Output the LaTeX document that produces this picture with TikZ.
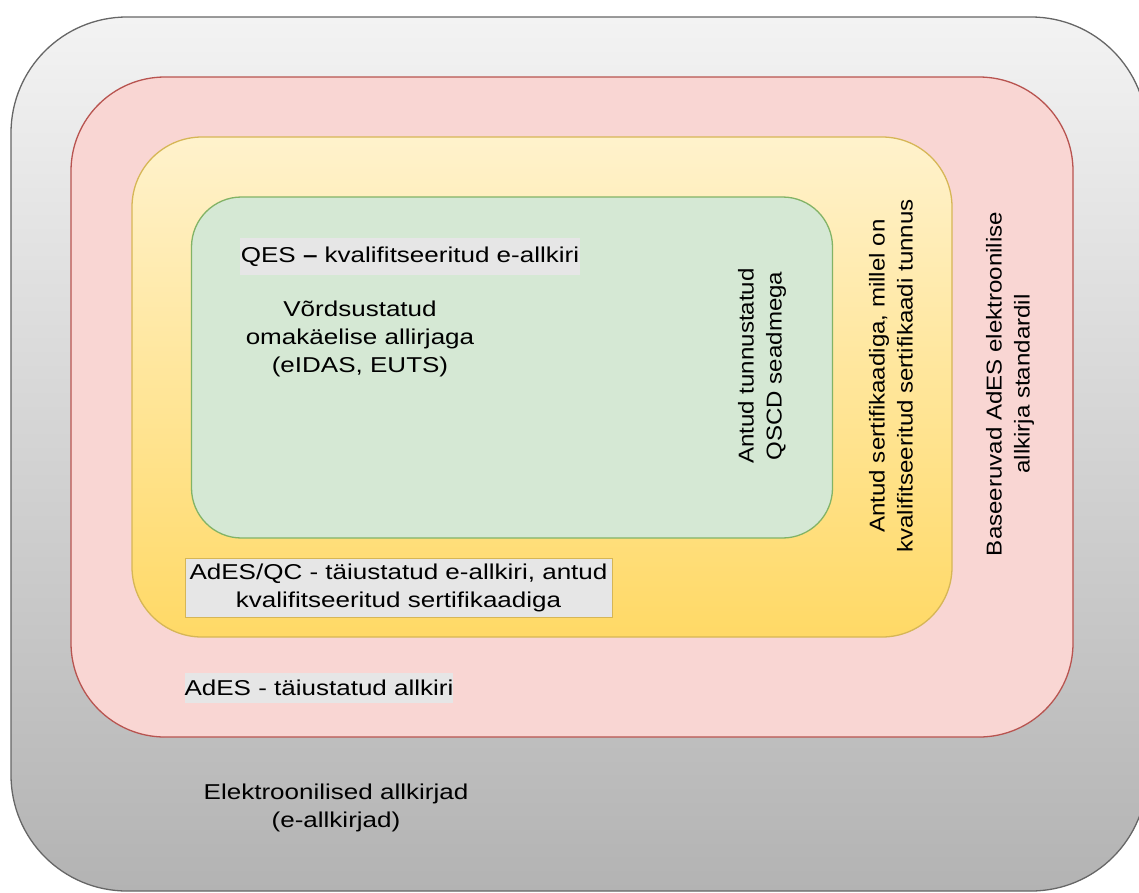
\documentclass[tikz,border=0pt]{standalone}
\usepackage{fontspec}
\newfontfamily\hfont{Liberation Sans}[FakeStretch=1.21]
\newfontfamily\vfont{Liberation Sans}[FakeStretch=1.12]
\definecolor{outerstroke}{HTML}{666666}
\definecolor{outertop}{HTML}{F3F3F3}
\definecolor{outerbot}{HTML}{B3B3B3}
\definecolor{redfill}{HTML}{F9D6D3}
\definecolor{redstroke}{HTML}{B85450}
\definecolor{yeltop}{HTML}{FFF2CC}
\definecolor{yelbot}{HTML}{FFD966}
\definecolor{yelstroke}{HTML}{D6B656}
\definecolor{grnfill}{HTML}{D5E8D4}
\definecolor{grnstroke}{HTML}{82B366}
\definecolor{lblgray}{HTML}{E6E6E6}
\tikzset{
  layer/.style={rectangle, line width=1.3pt, inner sep=0pt, outer sep=0pt},
  htext/.style={font=\hfont\fontsize{21.5pt}{28pt}\selectfont, align=center, inner sep=0pt, text=black},
  vtext/.style={font=\vfont\fontsize{21.5pt}{28pt}\selectfont, align=center, inner sep=0pt, text=black, rotate=90},
  lblbox/.style={htext, fill=lblgray},
}
\begin{document}
\begin{tikzpicture}[x=1pt, y=-1pt]
  \useasboundingbox (0,0) rectangle (1139,892);
  \clip (0,0) rectangle (1139,892);

  % nested rounded layers
  \node[layer, draw=outerstroke, top color=outertop, bottom color=outerbot,
        rounded corners=116pt, minimum width=1136pt, minimum height=874pt]
        (outer) at (579,454) {};
  \node[layer, draw=redstroke, fill=redfill,
        rounded corners=94pt, minimum width=1002pt, minimum height=660pt]
        (ades) at (572,407) {};
  \node[layer, draw=yelstroke, top color=yeltop, bottom color=yelbot,
        rounded corners=70pt, minimum width=820pt, minimum height=500pt]
        (adesqc) at (542,387) {};
  \node[layer, draw=grnstroke, fill=grnfill,
        rounded corners=50pt, minimum width=641pt, minimum height=341pt]
        (qes) at (512,367.5) {};

  % labels
  \node[lblbox, minimum width=340pt, minimum height=37pt] (qestitle) at (410,256.5)
    {QES {\bfseries –} kvalifitseeritud e-allkiri};
  \node[htext] (qesdesc) at (360,339)
    {Võrdsustatud\\omakäelise allirjaga\\(eIDAS, EUTS)};
  \node[vtext] (qscd) at (762,366)
    {Antud tunnustatud\\QSCD seadmega};
  \node[vtext] (qcdesc) at (891,376)
    {Antud sertifikaadiga, millel on\\kvalifitseeritud sertifikaadi tunnus};
  \node[vtext] (adesdesc) at (1010,384)
    {Baseeruvad AdES elektroonilise\\allkirja standardil};
  \node[lblbox, draw=yelstroke, line width=1pt, minimum width=427pt, minimum height=59pt]
    (qctitle) at (398.5,587.5)
    {AdES/QC - täiustatud e-allkiri, antud\\kvalifitseeritud sertifikaadiga};
  \node[lblbox, minimum width=268pt, minimum height=30pt] (adestitle) at (319,688)
    {AdES - täiustatud allkiri};
  \node[htext] (outertitle) at (336,808)
    {Elektroonilised allkirjad\\(e-allkirjad)};
\end{tikzpicture}
\end{document}
